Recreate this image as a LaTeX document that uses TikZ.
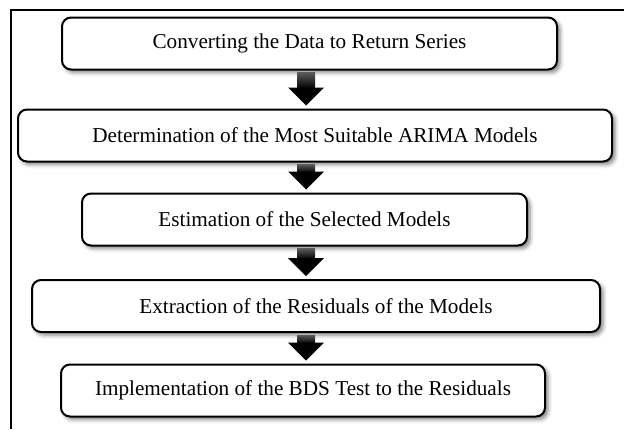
\documentclass[tikz,border=0pt]{standalone}
\usepackage{fontspec}
\setmainfont{Liberation Serif}
\usetikzlibrary{calc,shadows.blur}

\begin{document}
\begin{tikzpicture}[x=0.5pt, y=-0.5pt,
  stagebox/.style = {
    rectangle,
    rounded corners = 4.5pt,
    line width = 1pt,
    draw = black,
    fill = white,
    minimum height = 26pt,
    inner sep = 0,
    font = \fontsize{10.6}{12}\selectfont,
    blur shadow = {shadow xshift = 1.5pt, shadow yshift = -1.5pt,
                   shadow blur radius = 2pt, shadow opacity = 50},
  },
  flowshaft/.style = {top color = black!65, bottom color = black},
  flowhead/.style = {fill = black},
]
\useasboundingbox (0,0) rectangle (624,429);
\draw[line width = 0.75pt] (11,429) -- (11,10) -- (624,10);

\node[stagebox, minimum width = 247.5pt] (conv) at (309.5,43.5)
  {Converting the Data to Return Series};
\node[stagebox, minimum width = 297pt] (arima) at (315,135.5)
  {Determination of the Most Suitable ARIMA Models};
\node[stagebox, minimum width = 222.5pt] (estim) at (304.5,219.5)
  {Estimation of the Selected Models};
\node[stagebox, minimum width = 284pt] (resid) at (316,306)
  {Extraction of the Residuals of the Models};
\node[stagebox, minimum width = 242pt] (bds) at (303,390.5)
  {Implementation of the BDS Test to the Residuals};

\coordinate (ax) at (306,0);
\foreach \a/\b in {conv/arima, arima/estim, estim/resid, resid/bds} {
  \path (\a.south -| ax) coordinate (s) (\b.north -| ax) coordinate (t);
  \shade[flowshaft] ($(s)+(-9,2)$) rectangle ($(t)+(9,-20)$);
  \fill[flowhead] ($(t)+(-18,-21)$) -- ($(t)+(0,-3)$) -- ($(t)+(18,-21)$) -- cycle;
}
\end{tikzpicture}
\end{document}
